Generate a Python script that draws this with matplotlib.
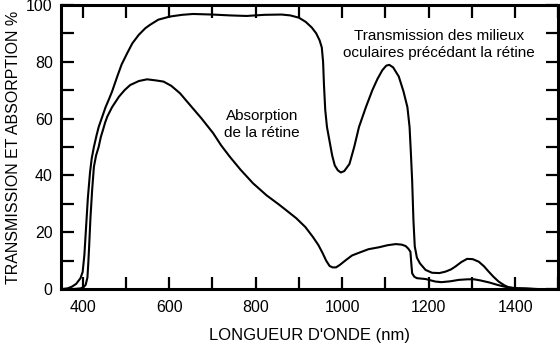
import matplotlib
matplotlib.use("Agg")
import matplotlib.pyplot as plt
from matplotlib.ticker import MultipleLocator

plt.rcParams['font.family'] = ['Liberation Sans', 'DejaVu Sans']

# Transmission des milieux oculaires (nm, %)
trans_nm = [355, 365, 375, 385, 395, 400, 404, 408, 412, 417, 421, 426, 432, 437,
            445, 453, 460, 468, 480, 490, 503, 515, 530, 545, 556, 575, 602, 630,
            655, 700, 740, 779, 820, 860, 880, 900, 916, 930, 940, 948, 953, 956,
            958, 961, 965, 971, 977, 983, 990, 997, 1005, 1017, 1028, 1039, 1055,
            1070, 1082, 1093, 1102, 1109, 1118, 1131, 1142, 1151, 1156, 1159, 1162,
            1165, 1168, 1173, 1180, 1193, 1208, 1225, 1239, 1252, 1262, 1276, 1289,
            1302, 1316, 1328, 1339, 1350, 1362, 1375, 1385, 1400, 1424, 1450]
trans_pct = [0, 0.2, 0.8, 1.8, 3.8, 6, 12, 22, 32, 41, 46, 50, 54, 57,
             60.5, 64, 66.5, 69.5, 74.8, 79, 83, 86.5, 89.5, 91.8, 93, 94.8, 95.9, 96.5,
             96.8, 96.6, 96.3, 96.1, 96.5, 96.6, 96.3, 95.5, 94, 92, 90, 87.5, 85, 80,
             72, 63, 57, 52, 47, 43.5, 41.8, 41, 41.5, 44, 50, 57, 64,
             70, 74, 77, 78.6, 78.9, 78, 74.8, 69.5, 64, 57, 48, 38,
             24, 15, 11, 9, 6.7, 5.7, 5.6, 6.1, 6.9, 7.9, 9.5, 10.6,
             10.5, 9.6, 8, 6.1, 4.3, 2.6, 1.3, 0.6, 0.3, 0.2, 0]

# Absorption de la rétine (nm, %)
absorb_nm = [380, 395, 402, 407, 411, 413, 415, 418, 422, 426, 431, 437, 442, 447,
             452, 457, 468, 484, 497, 510, 530, 549, 570, 587, 605, 625, 648, 675,
             702, 720, 740, 765, 794, 825, 855, 875, 894, 915, 932, 945, 955, 963,
             971, 978, 986, 995, 1009, 1023, 1040, 1061, 1086, 1105, 1124, 1138,
             1147, 1153, 1158, 1160, 1162, 1167, 1173, 1193, 1216, 1230, 1250, 1270,
             1290, 1305, 1320, 1340, 1360, 1376, 1399, 1440]
absorb_pct = [0, 0.2, 0.6, 1.5, 4, 9, 15, 25, 35, 43, 47, 50, 53.5, 56,
              58.6, 60.7, 64, 67.7, 70, 71.8, 73.2, 73.8, 73.4, 73, 71.5, 68.9, 64.8, 60,
              54.8, 50.6, 46.6, 42, 37.2, 33, 29.6, 27.2, 24.9, 21.8, 18.4, 15.5, 12.6, 10,
              8.1, 7.6, 7.6, 8.5, 10.2, 11.8, 12.8, 14, 14.7, 15.4, 15.8, 15.6,
              15.1, 14.2, 13.1, 9, 5.5, 4.3, 3.8, 3.5, 2.6, 2.4, 2.7, 3.2,
              3.4, 3.4, 3, 2.3, 1.4, 0.8, 0.2, 0]

fig = plt.figure(figsize=(5.6, 3.49), dpi=100)
ax = fig.add_axes([0.109, 0.172, 0.888, 0.814])

ax.plot(trans_nm, trans_pct, color='black', linewidth=1.5)
ax.plot(absorb_nm, absorb_pct, color='black', linewidth=1.5)

ax.set_xlim(350, 1500)
ax.set_ylim(0, 100)
ax.xaxis.set_major_locator(MultipleLocator(200))
ax.xaxis.set_minor_locator(MultipleLocator(100))
ax.yaxis.set_major_locator(MultipleLocator(20))
ax.yaxis.set_minor_locator(MultipleLocator(10))

for side in ax.spines.values():
    side.set_linewidth(2.2)

ax.tick_params(which='both', direction='in', length=9, width=1.6,
               top=True, right=True, labelsize=11.5)
ax.tick_params(axis='x', pad=8)
ax.tick_params(axis='y', pad=6)

ax.set_xlabel("LONGUEUR D'ONDE (nm)", fontsize=12, labelpad=9)
ax.set_ylabel("TRANSMISSION ET ABSORPTION %", fontsize=11.5, labelpad=4)

ax.text(1224, 86, "Transmission des milieux\noculaires précédant la rétine",
        ha='center', va='center', fontsize=11, linespacing=1.25)
ax.text(815, 58, "Absorption\nde la rétine",
        ha='center', va='center', fontsize=11, linespacing=1.25)

fig.savefig("out.png", dpi=100)
